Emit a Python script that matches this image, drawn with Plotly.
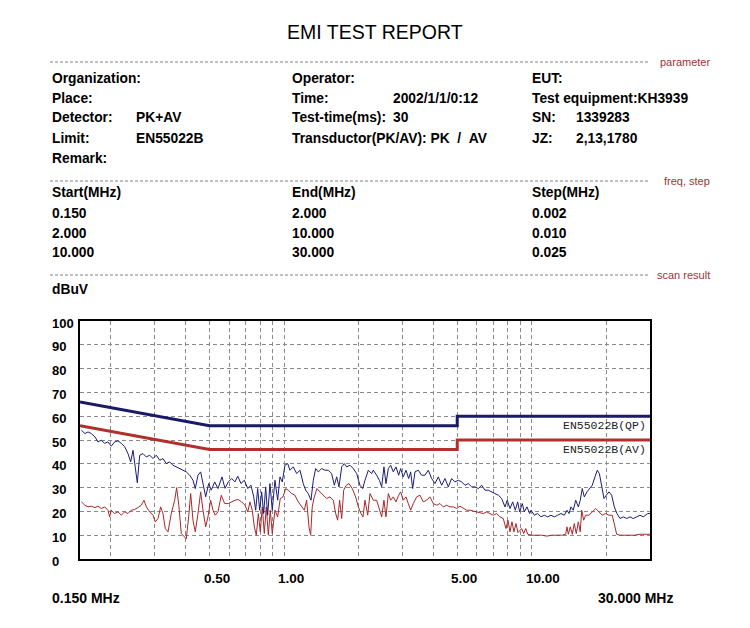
import math

import plotly.graph_objects as go

# ---- scan data (MHz, dBuV) ----
pk_freq = [
    0.152, 0.157, 0.1616, 0.1666, 0.1724, 0.1773, 0.1828, 0.1887, 0.1945, 0.2006,
    0.2070, 0.2135, 0.2202, 0.2272, 0.2343, 0.2403, 0.2455, 0.2508, 0.2555, 0.2613,
    0.2694, 0.2778, 0.2868, 0.2956, 0.3049, 0.3147, 0.3244, 0.3346, 0.3453, 0.3560,
    0.3671, 0.3790, 0.3907, 0.4028, 0.4158, 0.4287, 0.4380, 0.4491, 0.4605, 0.4704,
    0.4825, 0.4960, 0.5082, 0.5245, 0.5409, 0.5614,
    0.5772, 0.5955, 0.6142, 0.6334, 0.650, 0.6697, 0.6908, 0.7133, 0.7350, 0.7538,
    0.768, 0.7822, 0.7968, 0.8118, 0.8272, 0.8427, 0.8584, 0.8769, 0.8958, 0.9186,
    0.942, 0.9623, 0.9831, 1.008, 1.034, 1.056, 1.089, 1.124, 1.159, 1.195,
    1.222, 1.252, 1.284, 1.312, 1.341, 1.374, 1.418, 1.462, 1.508, 1.556,
    1.595, 1.630, 1.665, 1.708, 1.750, 1.789, 1.845, 1.902, 1.963, 2.024,
    2.076, 2.121, 2.188, 2.257,
    2.291, 2.364, 2.424, 2.477, 2.530, 2.578, 2.635, 2.693, 2.759, 2.829,
    2.901, 2.955, 3.028, 3.105, 3.183, 3.243, 3.304, 3.375, 3.482, 3.592,
    3.704, 3.821, 3.942, 4.065, 4.194, 4.326, 4.461, 4.602, 4.747, 4.896,
    5.050, 5.210, 5.372, 5.542, 5.717, 5.896, 6.082, 6.274, 6.470, 6.675,
    6.886, 7.100, 7.325, 7.556, 7.792, 7.960,
    8.163, 8.370, 8.576, 8.768, 8.931, 9.151, 9.327, 9.560, 9.801, 9.922,
    10.24, 10.56, 10.89, 11.23, 11.59, 11.95, 12.33, 12.72, 13.11, 13.53,
    13.87, 14.13, 14.39, 14.70, 15.04, 15.41, 15.69, 15.98, 16.29, 16.70,
    17.12, 17.54, 17.99, 18.38, 18.74, 19.14, 19.56, 19.98, 20.49, 21.01,
    21.53, 22.07, 22.69, 23.40, 24.15, 24.90, 25.68, 26.50, 27.33, 28.18,
    29.38, 30.0,
]
pk_level = [
    54.1, 52.7, 53.4, 52.7, 51.3, 49.2, 49.9, 48.6, 49.2, 47.4,
    49.2, 49.6, 48.6, 47.2, 44.3, 40.8, 45.7, 39.4, 32.0, 43.6,
    44.3, 42.9, 43.6, 42.2, 43.6, 41.5, 42.2, 40.1, 40.8, 39.4,
    38.7, 38.0, 37.3, 36.6, 35.2, 33.1, 29.6, 35.2, 36.6, 31.7,
    26.1, 31.7, 28.9, 32.4, 29.6, 34.5,
    29.7, 32.4, 33.8, 32.4, 34.8, 31.7, 33.1, 29.6, 31.0, 26.1,
    20.5, 29.6, 20.5, 28.2, 19.1, 30.3, 18.4, 31.7, 20.5, 33.1,
    24.7, 34.5, 32.4, 39.4, 40.1, 37.3, 38.7, 35.9, 37.3, 31.7,
    28.9, 27.5, 24.7, 33.1, 38.0, 36.6, 38.0, 37.3, 37.3, 35.9,
    31.0, 34.5, 30.3, 38.7, 40.1, 38.7, 39.4, 38.0, 35.9, 31.0,
    29.6, 33.1, 37.3, 35.9,
    37.3, 35.2, 33.1, 30.3, 38.7, 31.7, 38.0, 39.4, 36.6, 38.7,
    35.2, 38.0, 34.5, 37.3, 33.8, 36.6, 29.6, 36.6, 37.3, 35.2,
    35.2, 37.3, 33.8, 31.7, 34.5, 31.0, 33.8, 30.3, 33.8, 32.4,
    33.1, 32.4, 31.0, 31.7, 30.3, 30.3, 29.6, 31.0, 28.9, 28.9,
    28.2, 27.5, 26.8, 25.4, 21.9, 24.7,
    21.2, 24.0, 20.5, 24.0, 19.8, 23.3, 19.8, 21.9, 19.1, 20.5,
    18.4, 19.1, 17.7, 18.4, 17.7, 18.4, 17.7, 18.4, 19.1, 18.4,
    20.5, 19.1, 21.9, 20.5, 24.7, 21.9, 24.7, 29.6, 26.1, 28.2,
    29.6, 31.0, 34.5, 37.3, 35.9, 31.0, 25.4, 26.8, 28.2, 26.8,
    21.9, 19.1, 17.0, 17.7, 17.0, 17.7, 17.0, 17.7, 18.4, 17.7,
    19.1, 19.1,
]

av_freq = [
    0.152, 0.157, 0.1616, 0.1666, 0.1724, 0.1773, 0.1828, 0.1887, 0.1945, 0.1976,
    0.2006, 0.2070, 0.2135, 0.2202, 0.2272, 0.2343, 0.2416, 0.2493, 0.2571, 0.2652,
    0.2719, 0.2778, 0.2868, 0.2956, 0.3020, 0.3097, 0.3175, 0.3244, 0.3315, 0.3399,
    0.3504, 0.3616, 0.3684, 0.3764, 0.3845, 0.3943, 0.4028, 0.4119, 0.4196, 0.4287,
    0.4380, 0.4491, 0.4605, 0.4704, 0.4825, 0.4928, 0.5054, 0.5163, 0.5275, 0.5409,
    0.5577,
    0.5756, 0.5955, 0.6142, 0.6334, 0.6534, 0.6740, 0.6951, 0.7133, 0.7282, 0.7439,
    0.7582, 0.7724, 0.7870, 0.8013, 0.8164, 0.8320, 0.8476, 0.8636, 0.8794, 0.8958,
    0.9186, 0.942, 0.9650, 0.9895, 1.015, 1.040, 1.073, 1.106, 1.141, 1.177,
    1.207, 1.233, 1.260, 1.280, 1.299, 1.324, 1.357, 1.396, 1.439, 1.485,
    1.532, 1.580, 1.615, 1.645, 1.676, 1.708, 1.740, 1.782, 1.828, 1.884,
    1.945, 1.994, 2.043, 2.082, 2.121, 2.175, 2.222,
    2.291, 2.364, 2.424, 2.477, 2.530, 2.578, 2.635, 2.693, 2.759, 2.829,
    2.901, 2.955, 3.028, 3.105, 3.173, 3.243, 3.323, 3.429, 3.536, 3.646,
    3.763, 3.880, 4.001, 4.129, 4.258, 4.391, 4.532, 4.673, 4.819, 4.973,
    5.128, 5.288, 5.458, 5.628, 5.804, 5.989, 6.176, 6.369, 6.573, 6.778,
    6.989, 7.213, 7.438, 7.670, 7.865, 8.012, 8.163, 8.316, 8.472, 8.631,
    8.793,
    9.100, 9.272, 9.447, 9.622, 9.987, 10.46, 10.96, 11.48, 12.03, 12.60,
    13.20, 13.70, 13.87, 14.04, 14.30, 14.57, 14.84, 15.12, 15.41, 15.69,
    15.90, 16.20, 16.50, 17.01, 17.54, 18.11, 18.67, 19.25, 19.87, 20.49,
    21.13, 21.53, 22.01, 22.69, 23.77, 24.90, 26.09, 27.33, 28.63, 30.0,
]
av_level = [
    24.0, 22.6, 21.9, 22.2, 21.6, 22.2, 21.2, 21.9, 20.5, 17.7,
    20.5, 19.1, 19.8, 18.4, 19.8, 19.1, 20.5, 20.8, 21.6, 22.6,
    24.7, 21.9, 19.8, 18.4, 15.6, 17.0, 21.9, 19.1, 12.8, 11.4,
    19.1, 24.7, 30.0, 21.9, 10.7, 9.3, 8.5, 17.7, 27.5, 16.3,
    11.4, 19.1, 28.2, 20.5, 13.5, 17.7, 24.7, 20.5, 18.4, 19.8,
    26.8,
    23.3, 23.3, 24.0, 24.7, 25.0, 24.0, 22.6, 19.8, 24.0, 20.5,
    13.5, 10.0, 19.1, 11.4, 21.9, 10.7, 21.9, 10.0, 20.5, 10.7,
    20.5, 17.7, 25.4, 26.1, 29.6, 28.9, 27.5, 26.8, 24.0, 21.9,
    20.5, 24.7, 13.5, 10.0, 21.9, 26.1, 29.6, 28.2, 26.8, 25.4,
    26.1, 24.7, 19.1, 16.3, 24.7, 17.0, 28.9, 31.0, 31.7, 29.6,
    26.1, 21.9, 19.1, 17.7, 24.7, 18.4, 27.5,
    24.7, 24.7, 20.5, 17.7, 24.7, 17.7, 27.5, 24.7, 26.1, 24.0,
    26.8, 28.2, 24.7, 26.1, 23.3, 20.5, 23.3, 26.1, 26.8, 24.0,
    24.7, 26.1, 23.3, 22.6, 23.3, 21.9, 22.6, 21.9, 21.9, 21.2,
    22.2, 21.2, 20.5, 20.5, 20.2, 19.8, 19.4, 19.1, 19.8, 19.1,
    18.4, 19.1, 17.7, 17.0, 12.8, 16.3, 11.4, 15.6, 11.4, 14.9,
    11.1,
    12.8, 10.7, 12.8, 10.4, 10.0, 10.0, 10.0, 9.6, 10.0, 10.0,
    10.0, 10.4, 13.5, 10.4, 13.5, 10.4, 14.9, 10.7, 15.6, 11.4,
    20.5, 16.3, 18.4, 18.4, 19.8, 21.2, 19.8, 18.4, 19.1, 18.4,
    18.4, 14.2, 10.4, 10.0, 10.0, 10.3, 10.0, 10.4, 10.3, 10.4,
]

# EN55022 class B limits
limit_freq = [0.15, 0.5, 5, 5, 30]
qp_limit = [66, 56, 56, 60, 60]
av_limit = [56, 46, 46, 50, 50]

y_tick_vals = [100, 90, 80, 70, 60, 50, 40, 30, 20, 10, 0]
x_tick_vals = [0.5, 1, 5, 10]
x_tick_text = ["0.50", "1.00", "5.00", "10.00"]
x_grid = [0.2, 0.3, 0.4, 0.5, 0.6, 0.7, 0.8, 0.9, 1, 2, 3, 4, 5, 6, 7, 8, 9, 10, 20]

# report header
param_labels = [
    ["Organization:", "Place:", "Detector:", "Limit:", "Remark:"],
    ["Operator:", "Time:", "Test-time(ms):", "Transductor(PK/AV): PK  /  AV", ""],
    ["EUT:", "Test equipment:KH3939", "SN:", "JZ:", ""],
]
param_values = [
    ["", "", "PK+AV", "EN55022B", ""],
    ["", "2002/1/1/0:12", "30", "", ""],
    ["", "", "1339283", "2,13,1780", ""],
]
freq_header = ["Start(MHz)", "End(MHz)", "Step(MHz)"]
freq_rows = [
    ["0.150", "2.000", "0.002"],
    ["2.000", "10.000", "0.010"],
    ["10.000", "30.000", "0.025"],
]

FONT = "Liberation Sans, Arial, sans-serif"
MONO = "Liberation Mono, Courier New, monospace"

# page body has an 8px margin, so the figure is drawn 8px smaller
PAGE = 8
W, H = 750 - PAGE, 628 - PAGE
# plot box in reference pixels
L, R, T, B = 80, 650, 321, 559


def px(x):
    return (x - L) / (R - L)


def py(y):
    return (B - y) / (B - T)


annotations = []


def note(text, x, y, size=13.8, bold=True, color="black", anchor="left", family=FONT):
    annotations.append(dict(
        text=text, x=px(x), y=py(y), xref="paper", yref="paper",
        xanchor=anchor, yanchor="middle", showarrow=False,
        font=dict(family=family, size=size, color=color,
                  weight="bold" if bold else "normal"),
    ))


note("EMI TEST REPORT", 375, 32, size=19.5, bold=False, anchor="center")

col_x = [(50, 134), (290, 391), (530, 574)]
row_y = [78, 98, 118, 138, 158]
for c, (lx, vx) in enumerate(col_x):
    for r, yy in enumerate(row_y):
        if param_labels[c][r]:
            note(param_labels[c][r].replace("  ", "&nbsp;&nbsp;"), lx, yy)
        if param_values[c][r]:
            note(param_values[c][r], vx, yy)

freq_x = [50, 290, 530]
for c, xx in enumerate(freq_x):
    note(freq_header[c], xx, 193)
    for r, row in enumerate(freq_rows):
        note(row[c], xx, 213 + 20 * r)

note("dBuV", 50, 289)

shapes = []
for yy, label in [(62, "parameter"), (181, "freq, step"), (275, "scan result")]:
    shapes.append(dict(type="line", xref="paper", yref="paper",
                       x0=px(50), x1=px(648), y0=py(yy), y1=py(yy),
                       line=dict(color="#808080", width=1, dash="3px,2px")))
    note(label, 712, yy, size=11, bold=False, color="#9b3535", anchor="right")

# y tick labels, left aligned like the report
for v in y_tick_vals:
    annotations.append(dict(
        text=str(v), x=px(50), y=v, xref="paper", yref="y",
        xanchor="left", yanchor="middle", showarrow=False, yshift=-2,
        font=dict(family=FONT, size=13, color="black", weight="bold"),
    ))

# x tick labels
for v, t in zip(x_tick_vals, x_tick_text):
    annotations.append(dict(
        text=t, x=math.log10(v), y=py(578), xref="x", yref="paper",
        xanchor="left", yanchor="middle", showarrow=False, xshift=-8,
        font=dict(family=FONT, size=13.5, color="black", weight="bold"),
    ))

note("0.150 MHz", 50, 598, size=14)
note("30.000 MHz", 596, 598, size=14)

note("EN55022B(QP)", 648, 425, size=11.5, bold=False, color="#222222",
     anchor="right", family=MONO)
note("EN55022B(AV)", 648, 449, size=11.5, bold=False, color="#222222",
     anchor="right", family=MONO)

fig = go.Figure()
fig.add_trace(go.Scatter(x=av_freq, y=av_level, mode="lines",
                         line=dict(color="#a8282a", width=1), name="AV"))
fig.add_trace(go.Scatter(x=pk_freq, y=pk_level, mode="lines",
                         line=dict(color="#1c1c78", width=1), name="PK"))
fig.add_trace(go.Scatter(x=limit_freq, y=qp_limit, mode="lines",
                         line=dict(color="#1a1a66", width=3), name="QP limit"))
fig.add_trace(go.Scatter(x=limit_freq, y=av_limit, mode="lines",
                         line=dict(color="#b0302c", width=3), name="AV limit"))

fig.update_layout(
    width=W, height=H,
    margin=dict(l=L - PAGE, r=750 - R, t=T - PAGE, b=628 - B),
    paper_bgcolor="white", plot_bgcolor="white",
    showlegend=False,
    annotations=annotations,
    shapes=shapes,
    xaxis=dict(type="log", range=[math.log10(0.15), math.log10(30)],
               tickvals=x_grid, showticklabels=False, ticks="",
               showgrid=True, gridcolor="#8a8a8a", griddash="4px,3px", gridwidth=1,
               showline=True, linecolor="black", linewidth=1.5, mirror=True,
               zeroline=False),
    yaxis=dict(range=[0, 100], tickvals=[10, 20, 30, 40, 50, 60, 70, 80, 90],
               showticklabels=False, ticks="",
               showgrid=True, gridcolor="#8a8a8a", griddash="4px,3px", gridwidth=1,
               showline=True, linecolor="black", linewidth=1.5, mirror=True,
               zeroline=False),
)

fig.write_html("out.html")
